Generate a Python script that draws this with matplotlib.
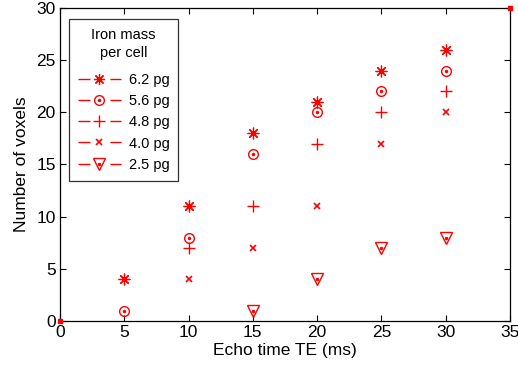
import matplotlib
matplotlib.use("Agg")
import matplotlib.pyplot as plt
from matplotlib.lines import Line2D
from matplotlib.legend_handler import HandlerTuple

plt.rcParams['font.family'] = ['Liberation Sans', 'DejaVu Sans']

# data (echo time in ms, number of voxels)
te_62 = [5, 10, 15, 20, 25, 30]
vox_62 = [4, 11, 18, 21, 24, 26]
te_56 = [5, 10, 15, 20, 25, 30]
vox_56 = [1, 8, 16, 20, 22, 24]
te_48 = [10, 15, 20, 25, 30]
vox_48 = [7, 11, 17, 20, 22]
te_40 = [10, 15, 20, 25, 30]
vox_40 = [4, 7, 11, 17, 20]
te_25 = [15, 20, 25, 30]
vox_25 = [1, 4, 7, 8]
labels = ['6.2 pg', '5.6 pg', '4.8 pg', '4.0 pg', '2.5 pg']

red = '#ff0000'

fig = plt.figure(figsize=(5.18, 3.75), dpi=100)
ax = fig.add_axes([0.1158, 0.144, 0.8688, 0.8348])

# 6.2 pg: asterisk
ax.plot(te_62, vox_62, ls='none', marker=(8, 2, 0), ms=8.5, mec=red, mew=0.9)
# 5.6 pg: circle with a dot
ax.plot(te_56, vox_56, ls='none', marker='o', ms=7, mfc='none', mec=red, mew=1.0)
ax.plot(te_56, vox_56, ls='none', marker='.', ms=3, color=red)
# 4.8 pg: plus
ax.plot(te_48, vox_48, ls='none', marker='+', ms=9, mec=red, mew=1.0)
# 4.0 pg: small x
ax.plot(te_40, vox_40, ls='none', marker='x', ms=4, mec=red, mew=1.2)
# 2.5 pg: down triangle with a dot
ax.plot(te_25, vox_25, ls='none', marker='v', ms=9, mfc='none', mec=red, mew=1.0)
ax.plot(te_25, vox_25, ls='none', marker='.', ms=3, color=red)

# corner points that fix the axis range
ax.plot([0, 35], [0, 30], ls='none', marker='s', ms=3, color=red, clip_on=False, zorder=5)

ax.set_xlim(0, 35)
ax.set_ylim(0, 30)
ax.set_xticks(range(0, 36, 5))
ax.set_yticks(range(0, 31, 5))
ax.tick_params(direction='in', top=True, right=True, length=4, labelsize=12.5, pad=3)
for s in ax.spines.values():
    s.set_linewidth(0.9)
ax.set_xlabel('Echo time TE (ms)', fontsize=12.5, labelpad=2)
ax.set_ylabel('Number of voxels', fontsize=12.5, labelpad=5)

# legend handles: short line pieces on both sides of the marker
dash = (0, (8.6, 14.4))


def h(**kw):
    return Line2D([0], [0], color=red, lw=1.0, **kw)


handles = [
    (h(ls=dash), h(ls='none', marker=(8, 2, 0), ms=8, mew=0.9)),
    (h(ls=dash), h(ls='none', marker='o', ms=7, mfc='none', mew=1.0),
     h(ls='none', marker='.', ms=3)),
    (h(ls=dash), h(ls='none', marker='+', ms=8, mew=1.0)),
    (h(ls=dash), h(ls='none', marker='x', ms=4, mew=1.2)),
    (h(ls=dash), h(ls='none', marker='v', ms=8, mfc='none', mew=1.0),
     h(ls='none', marker='.', ms=3)),
]
leg = ax.legend(handles, labels, title='Iron mass\nper cell', loc='upper left',
                bbox_to_anchor=(0.02, 0.965), borderaxespad=0, fontsize=10.5,
                title_fontsize=10.5, frameon=True, fancybox=False, edgecolor='black',
                handlelength=2.95, handletextpad=0.55, labelspacing=0.5,
                borderpad=0.6, handler_map={tuple: HandlerTuple(ndivide=1, pad=0)})
leg.get_frame().set_linewidth(0.9)
leg.get_title().set_multialignment('center')
leg.get_title().set_linespacing(1.35)
# a bit more room between the title and the entries
leg._legend_box.sep = 9.5

fig.savefig('out.png', dpi=100)
